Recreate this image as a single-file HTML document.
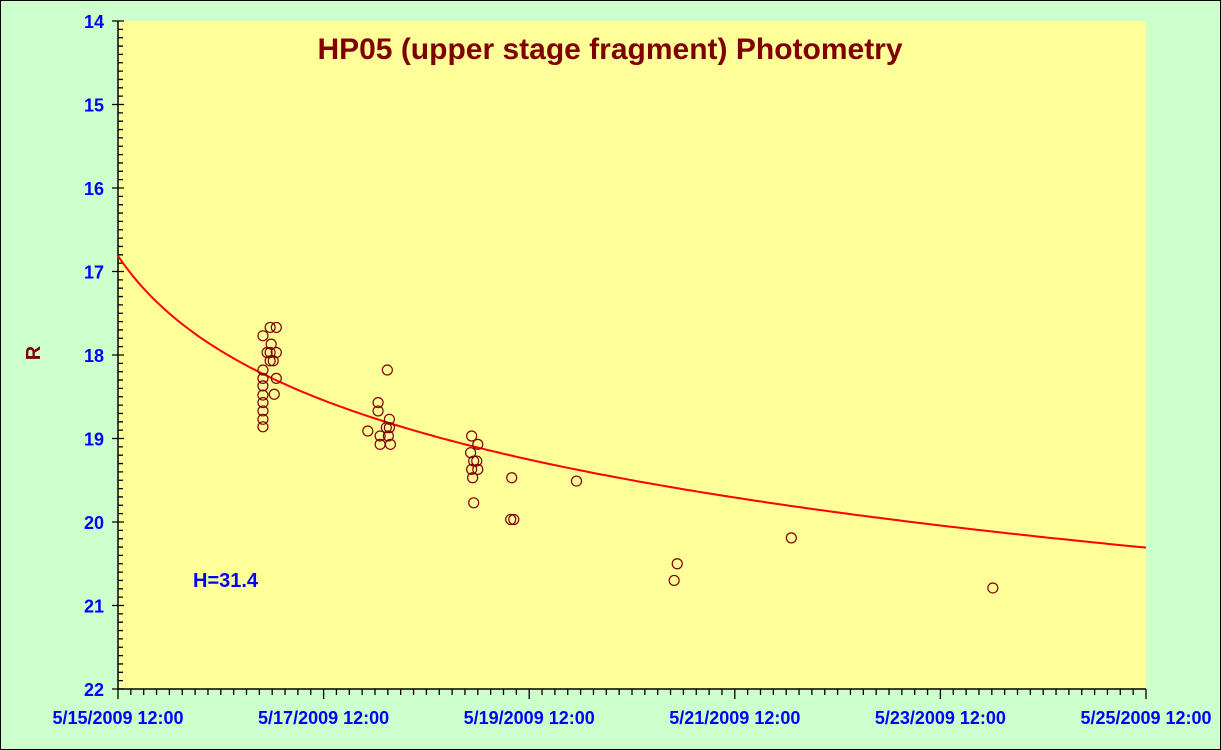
<!DOCTYPE html>
<html><head><meta charset="utf-8"><style>
body{margin:0;background:#ccffcc;}
svg{display:block;font-family:"Liberation Sans",Arial,sans-serif;}
</style></head><body>
<svg id="chart" width="1221" height="750" viewBox="0 0 1221 750" xmlns="http://www.w3.org/2000/svg">
<rect x="0.5" y="0.5" width="1220" height="749" fill="#ccffcc" stroke="#000"/>
<rect x="118" y="21" width="1028" height="668" fill="#ffff99"/>
<g id="ticks"></g>
<g id="curve"></g>
<g id="points"></g>
<text x="610" y="59" text-anchor="middle" font-size="30" font-weight="bold" fill="#800000">HP05 (upper stage fragment) Photometry</text>
<text x="40" y="353" text-anchor="middle" font-size="20" font-weight="bold" fill="#800000" transform="rotate(-90 40 353)">R</text>
<text x="193" y="587" font-size="20" font-weight="bold" fill="#0000ff">H=31.4</text>
</svg>
<script>
// x values: days since 5/15/2009 12:00; y values: R magnitude
const obsDays = [1.41,1.41,1.41,1.41,1.41,1.41,1.41,1.41,1.41,1.45,1.48,1.54,1.49,1.48,1.54,1.48,1.51,1.54,1.52,
 2.62,2.53,2.53,2.43,2.64,2.64,2.61,2.55,2.63,2.55,2.65,
 3.44,3.50,3.43,3.46,3.49,3.44,3.50,3.45,3.46,3.83,3.82,3.85,4.46,5.44,5.41,6.55,8.51];
const obsMag = [17.77,18.18,18.28,18.37,18.48,18.57,18.67,18.77,18.86,17.97,17.67,17.67,17.87,17.97,17.97,18.07,18.07,18.28,18.47,
 18.18,18.57,18.67,18.91,18.77,18.87,18.87,18.97,18.97,19.07,19.07,
 18.97,19.07,19.17,19.27,19.27,19.37,19.37,19.47,19.77,19.47,19.97,19.97,19.51,20.5,20.7,20.19,20.79];
const fitA = 17.27, fitK = 2.95, fitC = 0.7;
const yTicks = [14,15,16,17,18,19,20,21,22];
const xTickLabels = ["5/15/2009 12:00","5/17/2009 12:00","5/19/2009 12:00","5/21/2009 12:00","5/23/2009 12:00","5/25/2009 12:00"];
const xTickDays = [0,2,4,6,8,10];

const X0=118,X1=1146,Y0=21,Y1=689;
const xs=d=>X0+(d/10)*(X1-X0);
const ys=v=>Y0+(v-14)/8*(Y1-Y0);
const NS="http://www.w3.org/2000/svg";
function mk(tag,attrs,parent){const e=document.createElementNS(NS,tag);for(const k in attrs)e.setAttribute(k,attrs[k]);parent.appendChild(e);return e;}
const tg=document.getElementById('ticks');
let p='';
for(let i=0;i<=80;i++){const y=ys(14+i*0.1);const major=i%10===0;p+=`M${major?X0-6:X0} ${y}H${X0+(major?6:5)}`;}
for(let i=0;i<=80;i++){const x=xs(i/8);const major=i%16===0;p+=`M${x} ${Y1}V${Y1+(major?10:6)}`;}
const tp=mk('path',{d:p,stroke:'#000','stroke-width':1.3,fill:'none'},tg);


const ax=mk('path',{d:`M${X0} ${Y0}V${Y1}H${X1}`,stroke:'#000','stroke-width':1.5,fill:'none'},tg);


yTicks.forEach(v=>{const t=mk('text',{x:104,y:ys(v)+7,'text-anchor':'end','font-size':18,'font-weight':'bold',fill:'#0000ff'},tg);t.textContent=v;

});
xTickDays.forEach((d,i)=>{const t=mk('text',{x:xs(d),y:724,'text-anchor':'middle','font-size':18,'font-weight':'bold',fill:'#0000ff'},tg);t.textContent=xTickLabels[i];

});
let cp='';
for(let i=0;i<=200;i++){const d=i*0.05;cp+=(i?'L':'M')+xs(d).toFixed(1)+' '+ys(fitA+fitK*Math.log10(d+fitC)).toFixed(1);}
const cl=mk('path',{d:cp,stroke:'#ff0000','stroke-width':2,fill:'none'},document.getElementById('curve'));


const pg=document.getElementById('points');
obsDays.forEach((d,i)=>{const c=mk('circle',{cx:xs(d),cy:ys(obsMag[i]),r:5,fill:'none',stroke:'#800000','stroke-width':1.2},pg);

});
</script>
</body></html>
